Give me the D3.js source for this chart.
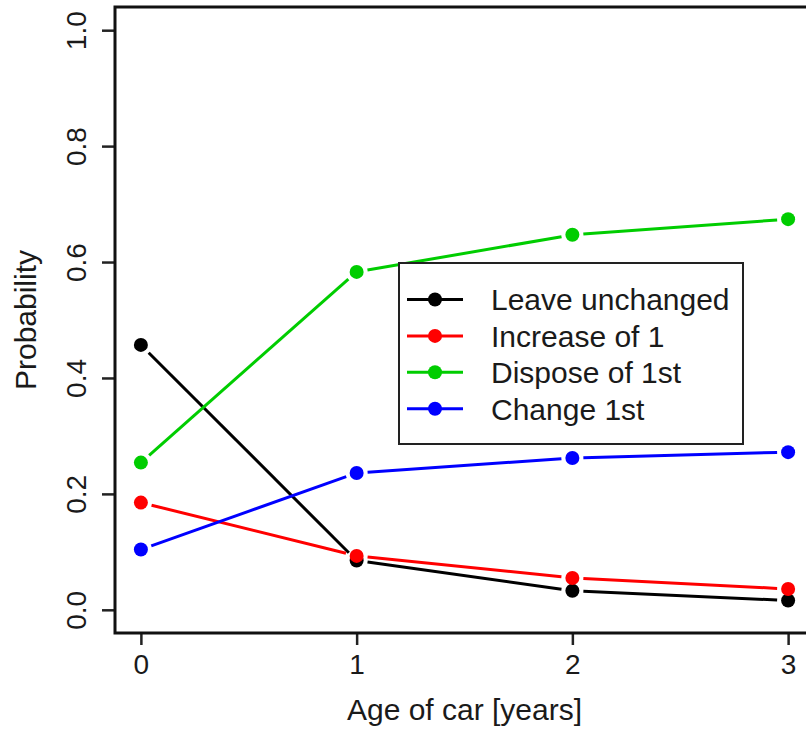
<!DOCTYPE html>
<html>
<head>
<meta charset="utf-8">
<script src="https://cdn.jsdelivr.net/npm/d3@7"></script>
<style>
  body { margin: 0; background: #fff; }
  svg text { font-family: "Liberation Sans", Arial, sans-serif; fill: #1a1a1a; }
</style>
</head>
<body>
<div id="chart"></div>
<script>
// data
const ages = [0, 1, 2, 3];
const seriesNames = ["Leave unchanged", "Increase of 1", "Dispose of 1st", "Change 1st"];
const seriesColors = ["#000000", "#ff0000", "#00cd00", "#0000ff"];
const leaveUnchanged = [0.457, 0.085, 0.033, 0.016];
const increaseOf1 = [0.185, 0.093, 0.055, 0.036];
const disposeOf1st = [0.254, 0.583, 0.647, 0.674];
const change1st = [0.104, 0.236, 0.262, 0.272];
const yTicks = [0, 0.2, 0.4, 0.6, 0.8, 1.0];

const seriesValues = [leaveUnchanged, increaseOf1, disposeOf1st, change1st];

const width = 806, height = 734;
const box = { left: 115, right: 814, top: 7, bottom: 633 };

const svg = d3.select("#chart")
    .append("svg")
    .attr("width", width)
    .attr("height", height);

// R style: axis range padded by 4% on each side
const x = d3.scaleLinear()
    .domain([-0.12, 3.12])
    .range([box.left, box.right]);

const y = d3.scaleLinear()
    .domain([-0.04, 1.04])
    .range([box.bottom, box.top]);

// x axis
const xAxis = svg.append("g")
    .attr("transform", `translate(0,${box.bottom})`)
    .call(d3.axisBottom(x)
        .tickValues(ages)
        .tickFormat(d3.format("d"))
        .tickSize(12)
        .tickPadding(9));
xAxis.select(".domain").remove();
xAxis.selectAll(".tick line").attr("stroke", "#222").attr("stroke-width", 2.5);
xAxis.selectAll(".tick text").attr("font-size", 28).attr("fill", "#1a1a1a");

// y axis, labels turned like R's default las=0
const yAxis = svg.append("g")
    .attr("transform", `translate(${box.left},0)`)
    .call(d3.axisLeft(y)
        .tickValues(yTicks)
        .tickFormat(d3.format(".1f"))
        .tickSize(13));
yAxis.select(".domain").remove();
yAxis.selectAll(".tick line").attr("stroke", "#222").attr("stroke-width", 2.5);
yAxis.selectAll(".tick text")
    .attr("font-size", 28)
    .attr("fill", "#1a1a1a")
    .attr("transform", "rotate(-90)")
    .attr("x", 0)
    .attr("y", -29)
    .attr("dy", 0)
    .attr("text-anchor", "middle");

// plot box
svg.append("rect")
    .attr("x", box.left)
    .attr("y", box.top)
    .attr("width", box.right - box.left)
    .attr("height", box.bottom - box.top)
    .attr("fill", "none")
    .attr("stroke", "#111")
    .attr("stroke-width", 3);

// axis titles
svg.append("text")
    .attr("x", (box.left + box.right) / 2)
    .attr("y", 720)
    .attr("text-anchor", "middle")
    .attr("font-size", 30)
    .text("Age of car [years]");

svg.append("text")
    .attr("transform", `translate(36,${(box.top + box.bottom) / 2}) rotate(-90)`)
    .attr("text-anchor", "middle")
    .attr("font-size", 30)
    .text("Probability");

// lines with gaps around points (type = "b")
const gap = 11;
seriesValues.forEach((vals, i) => {
    const g = svg.append("g").attr("class", "series");
    for (let k = 0; k < ages.length - 1; k++) {
        const x1 = x(ages[k]), y1 = y(vals[k]);
        const x2 = x(ages[k + 1]), y2 = y(vals[k + 1]);
        const len = Math.hypot(x2 - x1, y2 - y1);
        const ux = (x2 - x1) / len, uy = (y2 - y1) / len;
        g.append("line")
            .attr("x1", x1 + ux * gap)
            .attr("y1", y1 + uy * gap)
            .attr("x2", x2 - ux * gap)
            .attr("y2", y2 - uy * gap)
            .attr("stroke", seriesColors[i])
            .attr("stroke-width", 3);
    }
    g.selectAll("circle")
        .data(vals)
        .join("circle")
        .attr("cx", (d, k) => x(ages[k]))
        .attr("cy", d => y(d))
        .attr("r", 7)
        .attr("fill", seriesColors[i]);
});

// legend
const legend = svg.append("g").attr("transform", "translate(399,263)");
legend.append("rect")
    .attr("width", 344)
    .attr("height", 181)
    .attr("fill", "#fff")
    .attr("stroke", "#222")
    .attr("stroke-width", 2);

seriesNames.forEach((name, i) => {
    const ly = 36.5 + i * 36.4;
    legend.append("line")
        .attr("x1", 8).attr("x2", 64)
        .attr("y1", ly).attr("y2", ly)
        .attr("stroke", seriesColors[i])
        .attr("stroke-width", 3);
    legend.append("circle")
        .attr("cx", 36).attr("cy", ly)
        .attr("r", 7)
        .attr("fill", seriesColors[i]);
    legend.append("text")
        .attr("x", 92)
        .attr("y", ly)
        .attr("dy", "0.36em")
        .attr("font-size", 30)
        .text(name);
});
</script>
</body>
</html>
